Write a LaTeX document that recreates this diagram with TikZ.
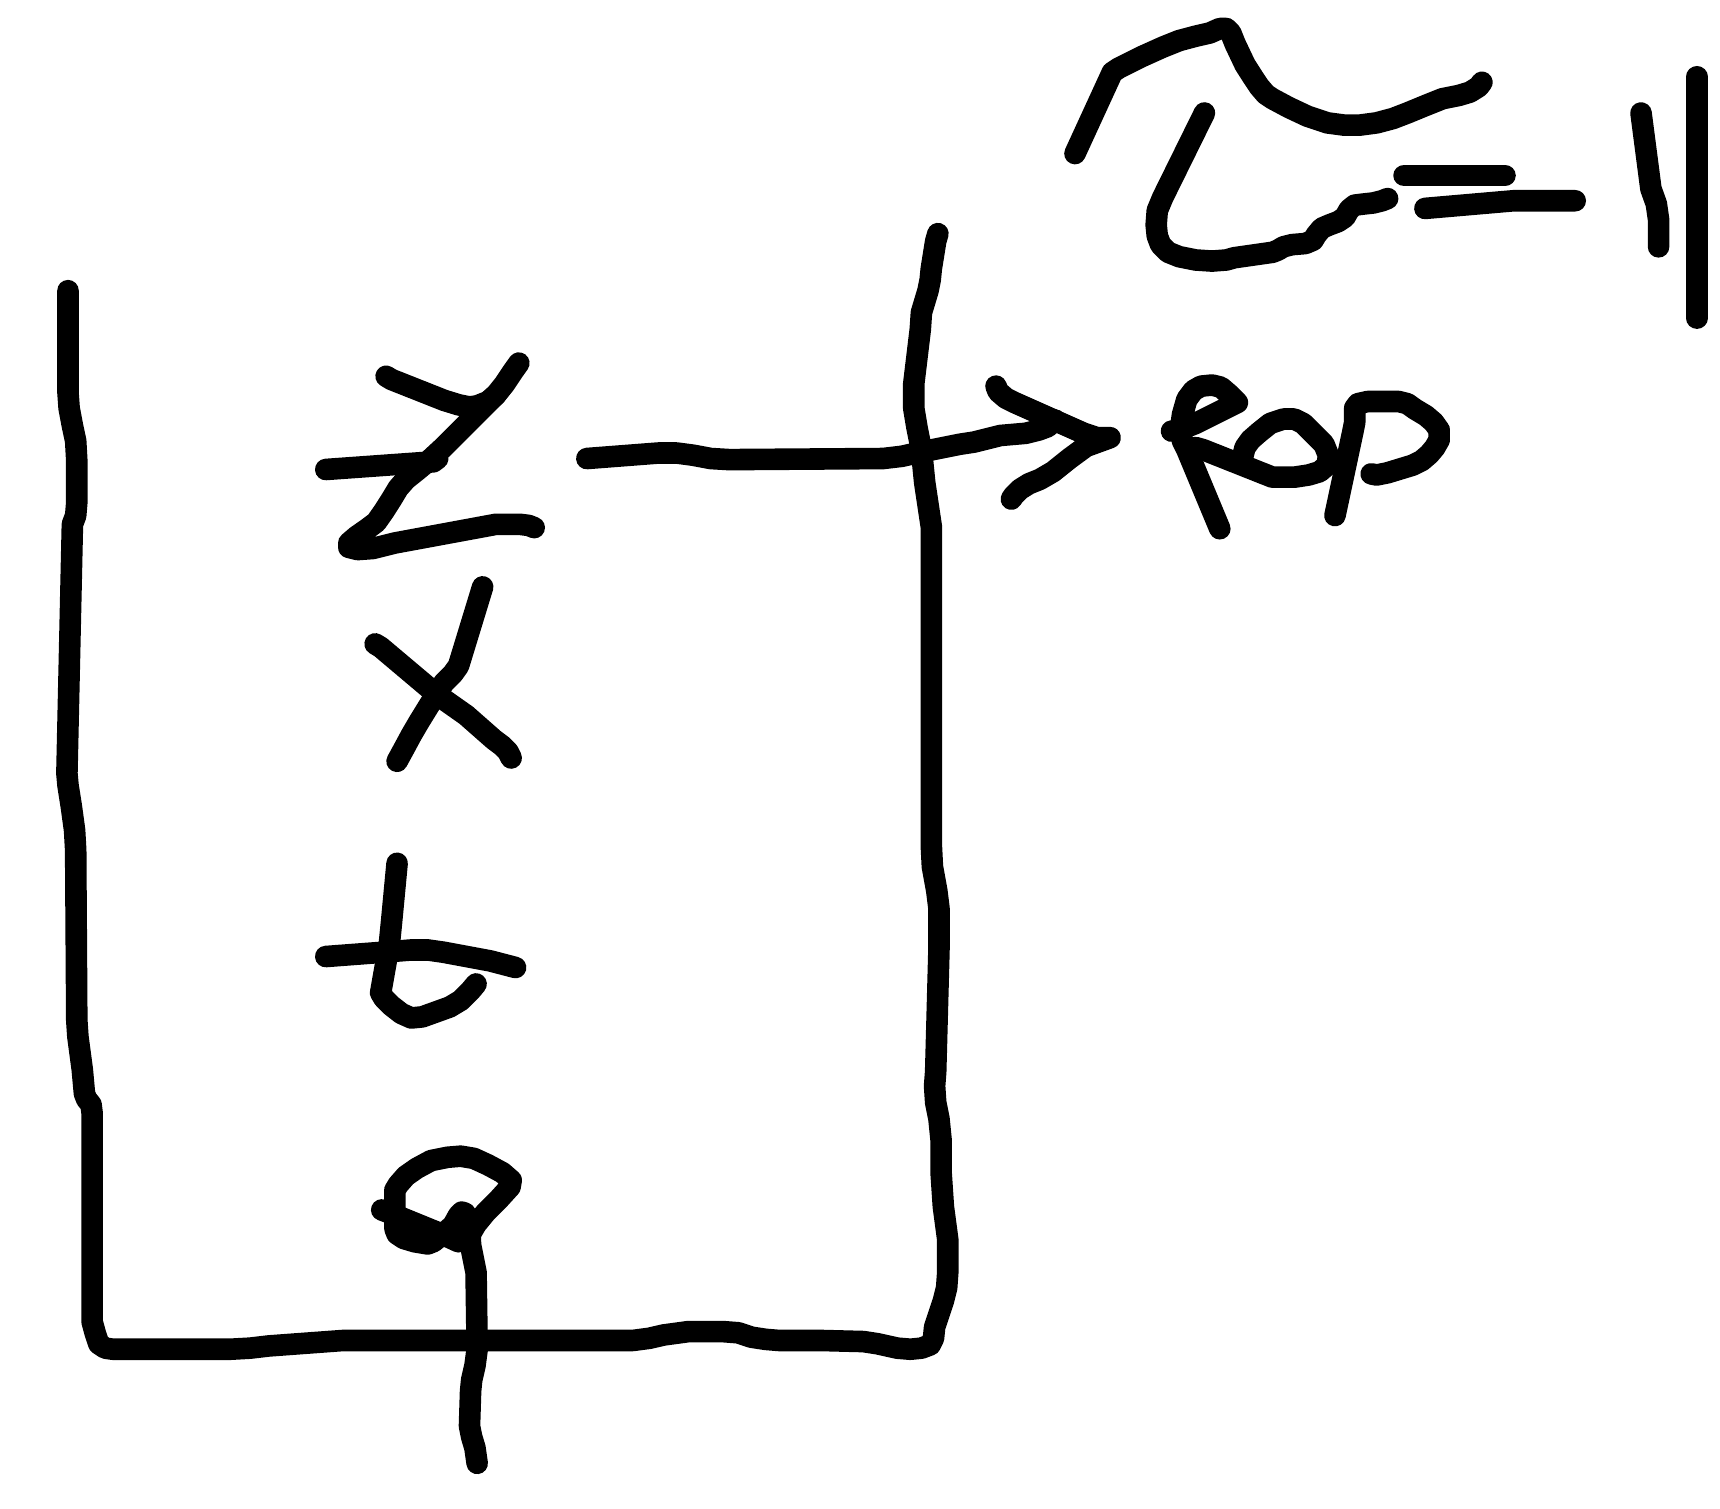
\documentclass[tikz,border=0pt]{standalone}
\usepackage{tikz}

\begin{document}
\begin{tikzpicture}[x=0.01cm, y=-0.01cm,
      ink/.style={draw=black, line width=5.6pt, line cap=round, line join=round}]

    \fill[white] (0,0) rectangle (1568,1375);
    \useasboundingbox (0,0) rectangle (1568,1375);

    %% ---- the open frame: left side, bottom, right side ------------------
    \draw[ink] (62,265) -- (62,358) -- (63,372) -- (66,388) -- (69,402) -- (70,420)
      -- (70,458) -- (69,470) -- (66,478) -- (61,705) -- (62,716) -- (65,735)
      -- (68,757) -- (69,775) -- (70,930) -- (71,945) -- (73,960) -- (75,975)
      -- (77,997) -- (79,1002) -- (83,1007) -- (84,1015) -- (84,1205) -- (87,1216)
      -- (90,1225) -- (96,1229) -- (103,1230) -- (210,1230) -- (228,1229)
      -- (245,1227) -- (313,1222) -- (577,1222) -- (592,1220) -- (605,1217)
      -- (627,1214) -- (660,1214) -- (673,1215) -- (685,1219) -- (698,1221)
      -- (710,1222) -- (748,1222) -- (787,1223) -- (800,1225) -- (818,1229)
      -- (830,1230) -- (840,1229) -- (848,1226) -- (851,1220) -- (852,1210)
      -- (856,1198) -- (860,1186) -- (863,1174) -- (864,1160) -- (864,1130)
      -- (862,1115) -- (860,1100) -- (858,1070) -- (858,1040) -- (856,1020)
      -- (853,1005) -- (852,990) -- (853,977) -- (856,865) -- (856,828)
      -- (854,812) -- (850,790) -- (849,770) -- (849,480) -- (846,460)
      -- (843,440) -- (841,420) -- (839,405) -- (836,390) -- (833,372)
      -- (833,350) -- (839,300) -- (840,285) -- (843,275) -- (846,265)
      -- (848,255) -- (849,245) -- (853,220) -- (855,213);

    %% ---- arrow out of the frame -----------------------------------------
    \draw[ink] (535,418) -- (600,413) -- (617,413) -- (632,415) -- (648,418)
      -- (665,419) -- (805,418) -- (822,416) -- (840,412) -- (860,408)
      -- (875,405) -- (888,403) -- (900,400) -- (912,397) -- (935,395)
      -- (947,392) -- (955,389) -- (962,383);
    \draw[ink] (908,352) -- (910,357) -- (917,363) -- (925,367) -- (943,375)
      -- (988,395) -- (1000,399) -- (1012,399) -- (990,407) -- (975,418)
      -- (960,430) -- (948,437) -- (938,441) -- (930,446) -- (924,452)
      -- (922,455);

    %% ---- letters down the frame -----------------------------------------
    % z with a bar
    \draw[ink] (352,343) -- (357,346) -- (405,365) -- (418,369) -- (428,371)
      -- (435,370) -- (445,366) -- (452,360) -- (460,350) -- (468,338) -- (473,331);
    \draw[ink] (452,360) -- (405,407) -- (392,419) -- (380,429) -- (370,437)
      -- (363,445) -- (357,455) -- (350,466) -- (343,476) -- (335,482)
      -- (325,489) -- (318,495) -- (318,499) -- (326,501) -- (340,500)
      -- (360,495) -- (452,478) -- (474,478) -- (482,479) -- (487,481);
    \draw[ink] (297,428) -- (395,421) -- (399,418);

    % x
    \draw[ink] (440,535) -- (418,607) -- (413,614) -- (405,622) -- (398,632)
      -- (390,645) -- (382,658) -- (375,670) -- (368,683) -- (362,694);
    \draw[ink] (342,587) -- (347,590) -- (398,633) -- (425,652) -- (450,674)
      -- (458,680) -- (463,685) -- (466,691);

    % b
    \draw[ink] (362,787) -- (357,840) -- (355,860) -- (350,888) -- (347,905)
      -- (350,910) -- (357,917) -- (366,924) -- (375,928) -- (385,927)
      -- (410,918) -- (420,912) -- (429,903) -- (434,897);
    \draw[ink] (297,872) -- (350,868) -- (375,866) -- (390,866) -- (404,868)
      -- (447,876) -- (470,882);

    % a, hanging on the stroke that crosses the bottom
    \draw[ink] (348,1103) -- (356,1106) -- (405,1126) -- (418,1132);
    \draw[ink] (427,1128) -- (434,1116) -- (443,1105) -- (455,1093) -- (465,1082)
      -- (466,1076) -- (458,1069) -- (445,1062) -- (432,1056) -- (420,1054)
      -- (408,1055) -- (393,1058) -- (380,1065) -- (370,1072) -- (363,1080)
      -- (360,1085) -- (360,1120) -- (362,1125) -- (368,1129) -- (378,1132)
      -- (390,1134) -- (395,1132) -- (405,1124) -- (413,1117) -- (418,1108)
      -- (421,1105) -- (424,1106) -- (428,1114) -- (429,1135) -- (432,1150)
      -- (434,1160) -- (435,1230) -- (433,1245) -- (430,1258) -- (429,1268)
      -- (428,1300) -- (430,1310) -- (433,1320) -- (435,1334);

    %% ---- word at the arrow head -----------------------------------------
    \draw[ink] (1068,393) -- (1075,392) -- (1090,386) -- (1128,367) -- (1120,359)
      -- (1113,353) -- (1105,351) -- (1095,352) -- (1088,356) -- (1082,364)
      -- (1078,378) -- (1076,392) -- (1078,402) -- (1082,410) -- (1112,482);
    \draw[ink] (1090,408) -- (1097,410) -- (1160,435) -- (1180,435) -- (1193,433)
      -- (1203,430) -- (1210,424) -- (1211,415) -- (1207,405) -- (1198,396)
      -- (1188,386) -- (1180,382) -- (1170,382) -- (1158,386) -- (1148,394)
      -- (1140,401) -- (1135,408) -- (1133,416);
    \draw[ink] (1217,470) -- (1233,395) -- (1235,385) -- (1235,372) -- (1238,368)
      -- (1247,366) -- (1275,366) -- (1283,368) -- (1290,373) -- (1300,379)
      -- (1307,385) -- (1312,392) -- (1312,401) -- (1308,408) -- (1303,414)
      -- (1296,420) -- (1288,424) -- (1265,431) -- (1255,433) -- (1250,432);

    %% ---- top right: curl, equals sign, one, bar -------------------------
    \draw[ink] (980,140) -- (1014,66) -- (1020,62) -- (1040,52) -- (1060,43)
      -- (1075,37) -- (1090,33) -- (1103,30) -- (1112,26) -- (1118,26)
      -- (1122,30) -- (1126,40) -- (1135,59) -- (1142,70) -- (1148,79)
      -- (1154,86) -- (1160,90) -- (1175,98) -- (1192,106) -- (1210,112)
      -- (1225,114) -- (1240,114) -- (1255,112) -- (1270,108) -- (1283,103)
      -- (1300,96) -- (1315,90) -- (1330,87) -- (1340,84) -- (1348,79) -- (1351,75);
    \draw[ink] (1098,103) -- (1060,180) -- (1055,192) -- (1054,205) -- (1055,215)
      -- (1058,223) -- (1065,230) -- (1075,234) -- (1090,237) -- (1105,238)
      -- (1118,237) -- (1125,235) -- (1160,230) -- (1165,228) -- (1170,225)
      -- (1178,223) -- (1190,222) -- (1197,219) -- (1200,214) -- (1205,208)
      -- (1212,205) -- (1220,202) -- (1226,198) -- (1230,191) -- (1235,187)
      -- (1243,186) -- (1252,185) -- (1260,183) -- (1265,181);
    \draw[ink] (1280,160) -- (1372,160);
    \draw[ink] (1299,190) -- (1380,183) -- (1436,183);
    \draw[ink] (1496,103) -- (1505,172) -- (1510,186) -- (1512,200) -- (1512,225);
    \draw[ink] (1547,70) -- (1547,290);
  \end{tikzpicture}
\end{document}
